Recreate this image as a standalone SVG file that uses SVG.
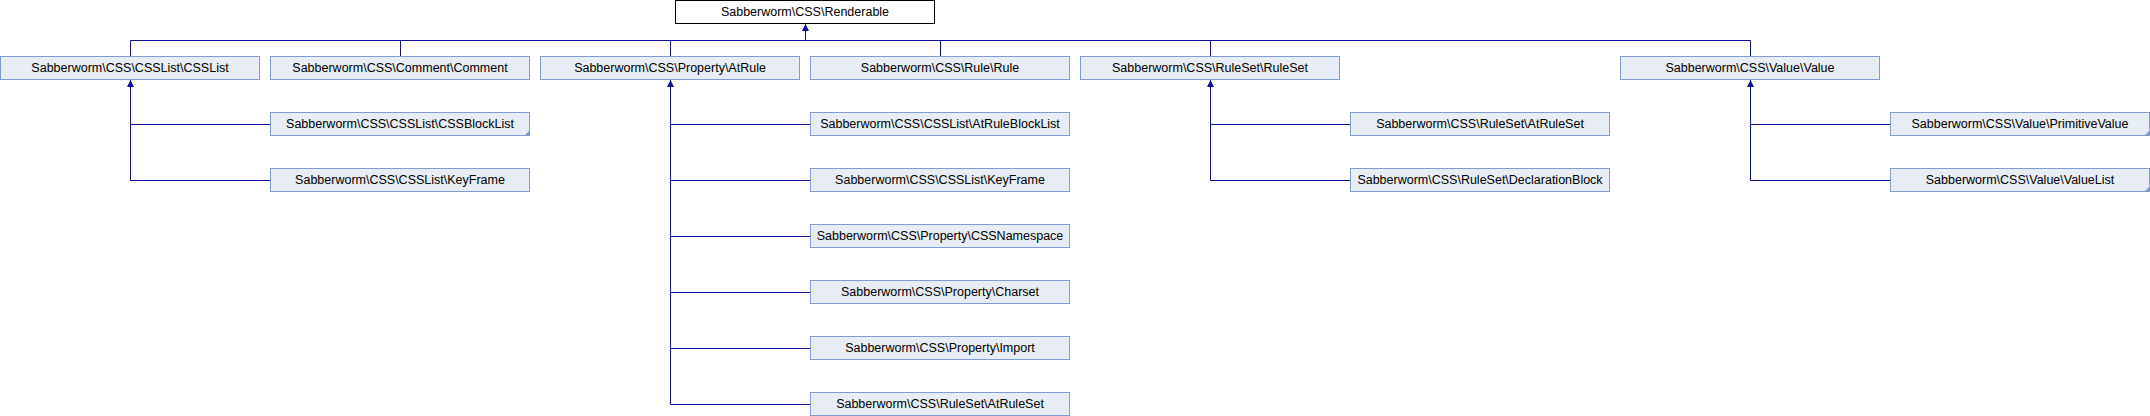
<svg xmlns="http://www.w3.org/2000/svg" width="2150" height="416" viewBox="0 0 2150 416">
<defs>
<style>
.b{fill:#e8ecf5;stroke:#7f9bd0;stroke-width:1}
.r{fill:#ffffff;stroke:#000000;stroke-width:1}
.t{font-family:"Liberation Sans",Arial,sans-serif;font-size:12.5px;fill:#000;text-anchor:middle}
.e{fill:none;stroke:#0d0d99;stroke-width:1}
.f{fill:#7f9bd0}
.a{fill:#0d0d99}
</style>
<polygon id="fold" class="f" points="0,0 0,-6 -6,0"/>
<polygon id="arr" class="a" points="0,0 -3.5,7 3.5,7"/>
</defs>
<rect width="2150" height="416" fill="#ffffff"/>
<g id="connectors">
<path class="e" d="M805.5,24 V40.5 M130.5,40.5 H1750.5 M130.5,40.5 V56 M400.5,40.5 V56 M670.5,40.5 V56 M940.5,40.5 V56 M1210.5,40.5 V56 M1750.5,40.5 V56"/>
<use href="#arr" x="805.5" y="24"/>
<path class="e" d="M130.5,80 V180.5 M130.5,124.5 H270 M130.5,180.5 H270"/>
<use href="#arr" x="130.5" y="80"/>
<path class="e" d="M670.5,80 V404.5 M670.5,124.5 H810 M670.5,180.5 H810 M670.5,236.5 H810 M670.5,292.5 H810 M670.5,348.5 H810 M670.5,404.5 H810"/>
<use href="#arr" x="670.5" y="80"/>
<path class="e" d="M1210.5,80 V180.5 M1210.5,124.5 H1350 M1210.5,180.5 H1350"/>
<use href="#arr" x="1210.5" y="80"/>
<path class="e" d="M1750.5,80 V180.5 M1750.5,124.5 H1890 M1750.5,180.5 H1890"/>
<use href="#arr" x="1750.5" y="80"/>
</g>
<g id="renderable"><rect class="r" x="675.5" y="0.5" width="259" height="23"/><text class="t" x="805" y="16">Sabberworm\CSS\Renderable</text></g>
<g id="csslist"><rect class="b" x="0.5" y="56.5" width="259" height="23"/><text class="t" x="130" y="72">Sabberworm\CSS\CSSList\CSSList</text></g>
<g id="comment"><rect class="b" x="270.5" y="56.5" width="259" height="23"/><text class="t" x="400" y="72">Sabberworm\CSS\Comment\Comment</text></g>
<g id="atrule"><rect class="b" x="540.5" y="56.5" width="259" height="23"/><text class="t" x="670" y="72">Sabberworm\CSS\Property\AtRule</text></g>
<g id="rule"><rect class="b" x="810.5" y="56.5" width="259" height="23"/><text class="t" x="940" y="72">Sabberworm\CSS\Rule\Rule</text></g>
<g id="ruleset"><rect class="b" x="1080.5" y="56.5" width="259" height="23"/><text class="t" x="1210" y="72">Sabberworm\CSS\RuleSet\RuleSet</text></g>
<g id="value"><rect class="b" x="1620.5" y="56.5" width="259" height="23"/><text class="t" x="1750" y="72">Sabberworm\CSS\Value\Value</text></g>
<g id="cssblocklist"><rect class="b" x="270.5" y="112.5" width="259" height="23"/><use href="#fold" x="530" y="136"/><text class="t" x="400" y="128">Sabberworm\CSS\CSSList\CSSBlockList</text></g>
<g id="keyframe1"><rect class="b" x="270.5" y="168.5" width="259" height="23"/><text class="t" x="400" y="184">Sabberworm\CSS\CSSList\KeyFrame</text></g>
<g id="atruleblocklist"><rect class="b" x="810.5" y="112.5" width="259" height="23"/><text class="t" x="940" y="128">Sabberworm\CSS\CSSList\AtRuleBlockList</text></g>
<g id="keyframe2"><rect class="b" x="810.5" y="168.5" width="259" height="23"/><text class="t" x="940" y="184">Sabberworm\CSS\CSSList\KeyFrame</text></g>
<g id="cssnamespace"><rect class="b" x="810.5" y="224.5" width="259" height="23"/><text class="t" x="940" y="240">Sabberworm\CSS\Property\CSSNamespace</text></g>
<g id="charset"><rect class="b" x="810.5" y="280.5" width="259" height="23"/><text class="t" x="940" y="296">Sabberworm\CSS\Property\Charset</text></g>
<g id="import"><rect class="b" x="810.5" y="336.5" width="259" height="23"/><text class="t" x="940" y="352">Sabberworm\CSS\Property\Import</text></g>
<g id="atruleset1"><rect class="b" x="810.5" y="392.5" width="259" height="23"/><text class="t" x="940" y="408">Sabberworm\CSS\RuleSet\AtRuleSet</text></g>
<g id="atruleset2"><rect class="b" x="1350.5" y="112.5" width="259" height="23"/><text class="t" x="1480" y="128">Sabberworm\CSS\RuleSet\AtRuleSet</text></g>
<g id="declarationblock"><rect class="b" x="1350.5" y="168.5" width="259" height="23"/><text class="t" x="1480" y="184">Sabberworm\CSS\RuleSet\DeclarationBlock</text></g>
<g id="primitivevalue"><rect class="b" x="1890.5" y="112.5" width="259" height="23"/><use href="#fold" x="2150" y="136"/><text class="t" x="2020" y="128">Sabberworm\CSS\Value\PrimitiveValue</text></g>
<g id="valuelist"><rect class="b" x="1890.5" y="168.5" width="259" height="23"/><use href="#fold" x="2150" y="192"/><text class="t" x="2020" y="184">Sabberworm\CSS\Value\ValueList</text></g>
</svg>
